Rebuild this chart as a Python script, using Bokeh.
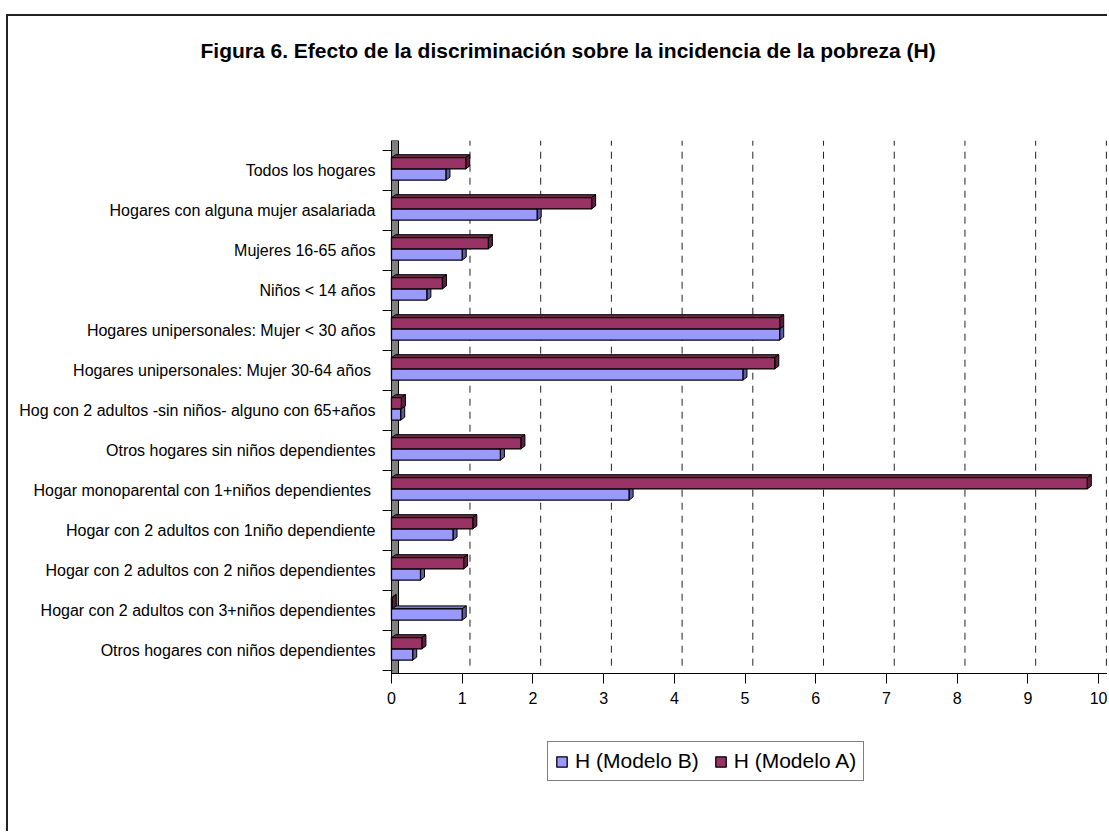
import numpy as np
from bokeh.plotting import figure
from bokeh.models import FixedTicker, Legend, LegendItem, Range1d, Title
from bokeh.embed import file_html
from bokeh.resources import INLINE

categories = [
    "Todos los hogares",
    "Hogares con alguna mujer asalariada",
    "Mujeres 16-65 años",
    "Niños < 14 años",
    "Hogares unipersonales: Mujer < 30 años",
    "Hogares unipersonales: Mujer 30-64 años ",
    "Hog con 2 adultos -sin niños- alguno con 65+años",
    "Otros hogares sin niños dependientes",
    "Hogar monoparental con 1+niños dependientes ",
    "Hogar con 2 adultos con 1niño dependiente",
    "Hogar con 2 adultos con 2 niños dependientes",
    "Hogar con 2 adultos con 3+niños dependientes",
    "Otros hogares con niños dependientes",
]
modelo_b = [0.77, 2.06, 1.00, 0.50, 5.49, 4.97, 0.13, 1.54, 3.36, 0.87, 0.41, 1.00, 0.30]
modelo_a = [1.05, 2.83, 1.37, 0.72, 5.49, 5.42, 0.14, 1.83, 9.84, 1.15, 1.02, 0.01, 0.43]
x_ticks = list(range(0, 11))
title_text = "Figura 6. Efecto de la discriminación sobre la incidencia de la pobreza (H)"

FONT = "Liberation Sans"
n = len(categories)
ypos = np.arange(n)[::-1].astype(float)  # first category on top
Y_LOW = -0.575   # value axis sits here
Y_TOP = 12.75
X_MAX = 10.14

p = figure(width=1101, height=817, output_backend="svg", toolbar_location=None,
           x_range=Range1d(-0.127, X_MAX), y_range=Range1d(-4.575, Y_TOP),
           min_border_left=374, min_border_top=124, min_border_right=1,
           min_border_bottom=0, title=None)
p.styles = {"border-left": "2px solid #222", "border-top": "2px solid #222",
            "margin-left": "6px", "margin-top": "14px"}
p.outline_line_color = None
p.xgrid.visible = False
p.ygrid.visible = False

# 3D look parameters (in data units)
DX = 0.057
DY = 0.075
GX = 0.11

# back wall (its left edge is the category axis line)
p.quad(left=0, right=GX * 0.9, bottom=Y_LOW, top=Y_TOP,
       fill_color="#808080", line_color="black", line_width=1)

# dashed gridlines on back wall
gx = [t + GX for t in x_ticks[1:]]
p.segment(x0=gx, y0=[-0.38] * len(gx), x1=gx, y1=[Y_TOP] * len(gx),
          line_color="#222222", line_dash="7 6", line_width=1)


def draw_series(vals, off_b, off_t, front, side, top):
    b = ypos + off_b
    t = ypos + off_t
    xs_r, ys_r, xs_t, ys_t = [], [], [], []
    for v, bb, tt in zip(vals, b, t):
        xs_r.append([v, v + DX, v + DX, v])
        ys_r.append([bb, bb + DY, tt + DY, tt])
        xs_t.append([0, v, v + DX, DX])
        ys_t.append([tt, tt, tt + DY, tt + DY])
    p.patches(xs_t, ys_t, fill_color=top, line_color="black", line_width=1)
    p.patches(xs_r, ys_r, fill_color=side, line_color="black", line_width=1)
    r = p.hbar(y=(b + t) / 2, height=(t - b), left=0, right=vals,
               fill_color=front, line_color="black", line_width=1.3)
    return r


rB = draw_series(modelo_b, -0.24, 0.04, "#9999FF", "#5C5CA8", "#7777CC")
rA = draw_series(modelo_a, 0.04, 0.32, "#993366", "#5E1E3E", "#6E2648")

# value axis, pinned at the bottom of the category area
p.xaxis.fixed_location = Y_LOW
p.xaxis.bounds = (0, X_MAX)
p.xaxis.ticker = FixedTicker(ticks=x_ticks)
p.xaxis.major_tick_out = 10
p.xaxis.major_tick_in = 0
p.xaxis.minor_tick_line_color = None
p.xaxis.axis_line_color = "black"
p.xaxis.major_tick_line_color = "black"
p.xaxis.major_label_text_font = FONT
p.xaxis.major_label_text_font_size = "16px"
p.xaxis.major_label_text_color = "black"
p.xaxis.major_label_standoff = 8

# category axis
p.yaxis.bounds = (Y_LOW, Y_TOP)
p.yaxis.ticker = FixedTicker(ticks=list(range(n)),
                             minor_ticks=[i - 0.5 for i in range(n + 1)])
p.yaxis.major_label_overrides = {int(ypos[i]): categories[i] for i in range(n)}
p.yaxis.major_tick_out = 0
p.yaxis.major_tick_in = 0
p.yaxis.minor_tick_out = 0
p.yaxis.minor_tick_in = 10
p.yaxis.minor_tick_line_color = "black"
p.yaxis.axis_line_color = None
p.yaxis.major_label_text_font = FONT
p.yaxis.major_label_text_font_size = "16px"
p.yaxis.major_label_text_color = "black"
p.yaxis.major_label_standoff = 7

# title (blank lines below keep it away from the plot area)
title = Title(text=title_text + "\n\u00a0\n\u00a0\n\u00a0", align="left", offset=-182,
              text_font=FONT, text_font_size="21px", text_font_style="bold",
              text_color="black", text_line_height=1.068)
p.add_layout(title, "above")

legend = Legend(items=[LegendItem(label="H (Modelo B)", renderers=[rB]),
                       LegendItem(label="H (Modelo A)", renderers=[rA])],
                orientation="horizontal", location=(165, 52))
legend.label_text_font = FONT
legend.label_text_font_size = "21px"
legend.label_text_color = "black"
legend.glyph_width = 13
legend.glyph_height = 13
legend.border_line_color = "black"
legend.border_line_width = 1
legend.padding = 7
legend.spacing = 15
legend.margin = 0
legend.label_standoff = 7
legend.background_fill_alpha = 1
p.add_layout(legend)

open("out.html", "w").write(file_html(p, INLINE))
